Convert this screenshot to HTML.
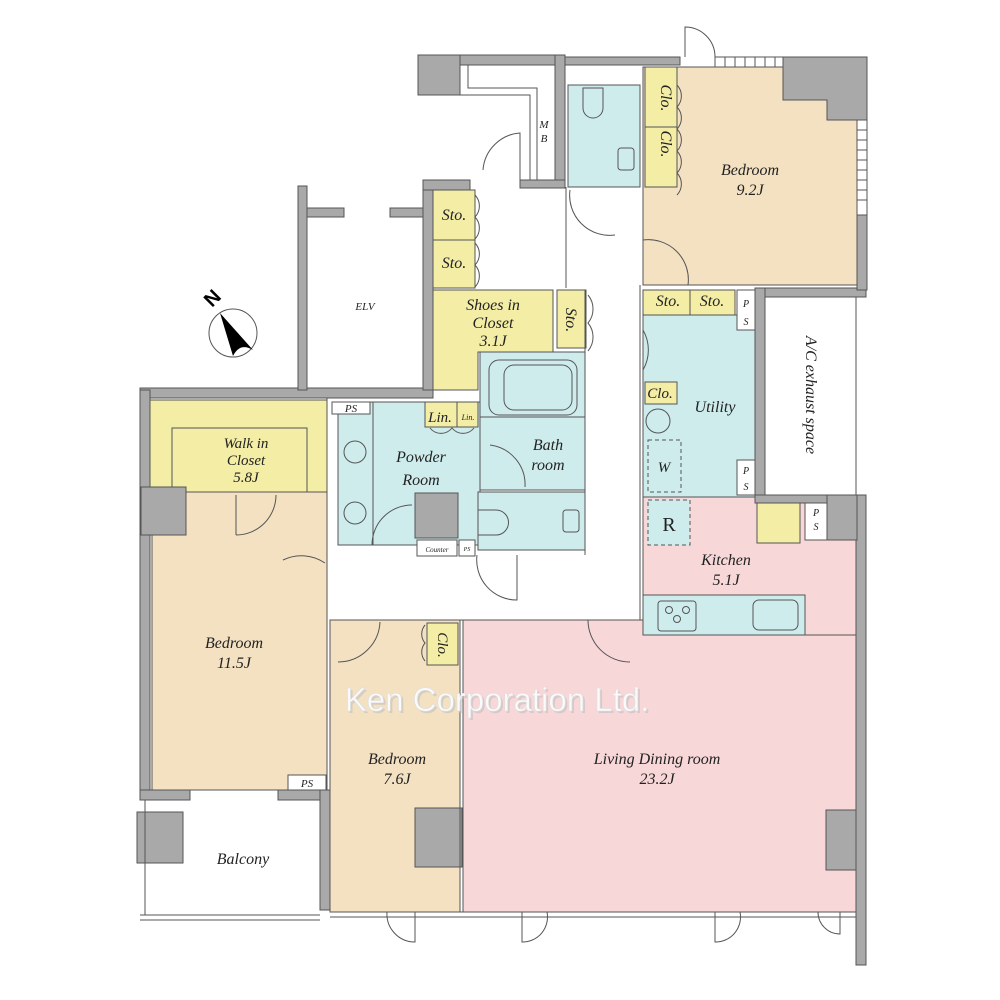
<!DOCTYPE html>
<html><head><meta charset="utf-8"><style>
html,body{margin:0;padding:0;background:#fff;width:1000px;height:1000px;overflow:hidden}
svg{display:block}
text{font-family:"Liberation Serif",serif;font-style:italic;fill:#222}
</style></head><body>
<svg width="1000" height="1000" viewBox="0 0 1000 1000" xmlns="http://www.w3.org/2000/svg">
<g stroke="#555" stroke-width="1">
<rect x="150" y="400" width="177" height="92" fill="#f3eda6"/>
<rect x="172" y="428" width="135" height="64" fill="none"/>
<rect x="152" y="492" width="175" height="298" fill="#f3e1c2"/>
<rect x="338" y="402" width="142" height="143" fill="#cfeced"/>
<rect x="338" y="402" width="35" height="143" fill="#cfeced"/>
<rect x="480" y="352" width="105" height="138" fill="#cfeced"/>
<rect x="478" y="492" width="107" height="58" fill="#cfeced"/>
<rect x="330" y="620" width="130" height="292" fill="#f3e1c2"/>
<rect x="463" y="620" width="393" height="292" fill="#f8d7d8"/>
<rect x="643" y="497" width="213" height="138" fill="#f8d7d8"/>
<rect x="643" y="595" width="162" height="40" fill="#cfeced"/>
<rect x="757" y="503" width="43" height="40" fill="#f3eda6"/>
<rect x="805" y="503" width="22" height="37" fill="#fff"/>
<rect x="648" y="500" width="42" height="45" fill="#cfeced" stroke-dasharray="4,3"/>
<rect x="643" y="315" width="112" height="182" fill="#cfeced"/>
<rect x="648" y="440" width="33" height="52" fill="none" stroke-dasharray="4,3"/>
<rect x="643" y="290" width="47" height="25" fill="#f3eda6"/>
<rect x="690" y="290" width="45" height="25" fill="#f3eda6"/>
<rect x="737" y="290" width="18" height="40" fill="#fff"/>
<rect x="737" y="460" width="18" height="35" fill="#fff"/>
<rect x="645" y="382" width="32" height="22" fill="#f3eda6"/>
<rect x="765" y="297" width="91" height="198" fill="#fff"/>
<path d="M643 67 H783 V100 H827 V120 H857 V285 H643 Z" fill="#f3e1c2"/>
<rect x="645" y="67" width="32" height="60" fill="#f3eda6"/>
<rect x="645" y="127" width="32" height="60" fill="#f3eda6"/>
<rect x="568" y="85" width="72" height="102" fill="#cfeced"/>
<rect x="433" y="190" width="42" height="50" fill="#f3eda6"/>
<rect x="433" y="240" width="42" height="48" fill="#f3eda6"/>
<path d="M433 290 H553 V352 H478 V390 H433 Z" fill="#f3eda6"/>
<rect x="557" y="290" width="29" height="58" fill="#f3eda6"/>
<rect x="427" y="623" width="31" height="42" fill="#f3eda6"/>
<rect x="425" y="402" width="32" height="25" fill="#f3eda6"/>
<rect x="457" y="402" width="21" height="25" fill="#f3eda6"/>
<rect x="332" y="402" width="38" height="12" fill="#fff"/>
<rect x="288" y="775" width="38" height="15" fill="#fff"/>
<rect x="417" y="540" width="40" height="16" fill="#fff"/>
<rect x="459" y="540" width="16" height="16" fill="#fff"/>
<rect x="489" y="360" width="88" height="55" rx="10" fill="none"/>
<rect x="504" y="365" width="68" height="45" rx="10" fill="none"/>
<line x1="480" y1="417" x2="585" y2="417"/>
<circle cx="355" cy="452" r="11" fill="none"/><circle cx="355" cy="513" r="11" fill="none"/>
<circle cx="658" cy="421" r="12" fill="none"/>
<rect x="618" y="148" width="16" height="22" rx="3" fill="none"/>
<rect x="563" y="510" width="16" height="22" rx="3" fill="none"/>
<path d="M583 88 v20 a10 10 0 0 0 20 0 v-20 z" fill="none"/>
<path d="M478 510 h18 a12 12 0 0 1 0 25 h-18 z" fill="none"/>
<rect x="658" y="601" width="38" height="30" rx="3" fill="none"/>
<circle cx="669" cy="610" r="3.5" fill="none"/><circle cx="686" cy="610" r="3.5" fill="none"/><circle cx="677" cy="619" r="3.5" fill="none"/>
<rect x="753" y="600" width="45" height="30" rx="6" fill="none"/>
<g fill="#a9a9a9">
<rect x="140" y="388" width="293" height="10"/>
<rect x="298" y="186" width="9" height="204"/>
<rect x="307" y="208" width="37" height="9"/>
<rect x="390" y="208" width="35" height="9"/>
<rect x="423" y="180" width="10" height="210"/>
<rect x="140" y="390" width="10" height="410"/>
<rect x="141" y="487" width="45" height="48"/>
<rect x="140" y="790" width="50" height="10"/>
<rect x="278" y="790" width="52" height="10"/>
<rect x="320" y="790" width="10" height="120"/>
<rect x="137" y="812" width="46" height="51"/>
<rect x="415" y="808" width="47" height="59"/>
<rect x="415" y="493" width="43" height="45"/>
<rect x="826" y="810" width="30" height="60"/>
<rect x="856" y="495" width="10" height="470"/>
<rect x="827" y="495" width="30" height="45"/>
<rect x="755" y="288" width="111" height="9"/>
<rect x="755" y="288" width="10" height="210"/>
<rect x="755" y="495" width="72" height="8"/>
<rect x="857" y="215" width="10" height="75"/>
<path d="M783 57 H867 V120 H857 V120 H827 V100 H783 Z"/>
<rect x="418" y="55" width="147" height="10"/>
<rect x="418" y="55" width="42" height="40"/>
<rect x="555" y="55" width="10" height="132"/>
<rect x="520" y="180" width="45" height="8"/>
<rect x="565" y="57" width="115" height="8"/>
<rect x="423" y="180" width="47" height="10"/>
</g>
<g fill="none">
<rect x="857" y="120" width="10" height="95"/>
<path d="M857 130h10M857 140h10M857 150h10M857 160h10M857 170h10M857 180h10M857 190h10M857 200h10"/>
<rect x="715" y="57" width="68" height="10"/>
<path d="M725 57v10M735 57v10M745 57v10M755 57v10M765 57v10M775 57v10"/>
<path d="M460 65 V95 H530 V180 M468 65 V88 H537 V180"/>
<line x1="327" y1="398" x2="327" y2="790"/>
<line x1="330" y1="620" x2="640" y2="620"/>
<line x1="585" y1="290" x2="585" y2="555"/>
<line x1="640" y1="285" x2="640" y2="620"/>
<line x1="566" y1="187" x2="566" y2="288"/>
<line x1="330" y1="912" x2="856" y2="912"/>
<line x1="330" y1="917" x2="856" y2="917"/>
<line x1="140" y1="915" x2="320" y2="915"/>
<line x1="140" y1="920" x2="320" y2="920"/>
<line x1="460" y1="620" x2="460" y2="912"/>
<line x1="145" y1="800" x2="145" y2="915"/>
<path d="M236 535 v-40 M236 535 a40 40 0 0 0 40 -40"/>
<path d="M325 563 a42 42 0 0 0 -42 -3"/>
<path d="M517 555 v45 a40 40 0 0 1 -40 -45"/>
<path d="M338 662 a42 42 0 0 0 42 -40"/>
<path d="M630 662 a42 42 0 0 1 -42 -42"/>
<path d="M643 240 a40 40 0 0 1 45 45"/>
<path d="M643 285 v-45"/>
<path d="M570 190 a40 40 0 0 0 45 45 M643 330 a40 40 0 0 1 0 40"/>
<path d="M483 170 a40 40 0 0 1 37 -37 v50"/>
<path d="M685 57 v-30 a30 30 0 0 1 30 30"/>
<path d="M490 445 a40 40 0 0 1 35 42"/>
<path d="M372 545 a40 40 0 0 1 40 -40"/>
<path d="M475 195 a16 16 0 0 1 0 22 a16 16 0 0 1 0 22 M475 243 a16 16 0 0 1 0 22 a16 16 0 0 1 0 22"/>
<path d="M677 85 a16 16 0 0 1 0 22 a16 16 0 0 1 0 22 a16 16 0 0 1 0 22 a16 16 0 0 1 0 22 a16 16 0 0 1 0 22"/>
<path d="M588 295 a22 22 0 0 1 0 28 a22 22 0 0 1 0 28"/>
<path d="M430 428 a14 14 0 0 0 22 0 a14 14 0 0 0 22 0"/>
<path d="M425 625 a14 14 0 0 0 0 18 a14 14 0 0 0 0 18"/>
<path d="M415 912 v30 a28 28 0 0 1 -28 -30 M522 912 v30 a25 25 0 0 0 25 -30 M715 912 v30 a25 25 0 0 0 25 -30 M840 912 v22 a22 22 0 0 1 -22 -22"/>
</g>
<circle cx="233" cy="333" r="24" fill="#fff"/>
</g>
<path d="M220 313 L253 350 Q240 342 233 356 Z" fill="#000"/>
<text x="212" y="308" transform="rotate(-45 212 308)" style="font-style:normal;font-family:'Liberation Sans',sans-serif;font-weight:bold;fill:#000" font-size="20">N</text>
<g font-size="16" text-anchor="middle">
<text x="365" y="310" font-size="11">ELV</text>
<text x="544" y="128" font-size="11">M</text><text x="544" y="142" font-size="11">B</text>
<text x="454" y="220">Sto.</text><text x="454" y="268">Sto.</text>
<text x="493" y="310">Shoes in</text><text x="493" y="328">Closet</text><text x="493" y="346">3.1J</text>
<text x="750" y="175">Bedroom</text><text x="750" y="195">9.2J</text>
<text x="668" y="306">Sto.</text><text x="712" y="306">Sto.</text>
<text x="660" y="398" font-size="15">Clo.</text>
<text x="715" y="412">Utility</text>
<text x="664" y="472" font-size="15">W</text>
<text x="669" y="531" font-size="20" style="font-style:normal">R</text>
<text x="726" y="565">Kitchen</text><text x="726" y="585">5.1J</text>
<text x="246" y="448" font-size="15">Walk in</text><text x="246" y="465" font-size="15">Closet</text><text x="246" y="482" font-size="15">5.8J</text>
<text x="421" y="462">Powder</text><text x="421" y="485">Room</text>
<text x="548" y="450">Bath</text><text x="548" y="470">room</text>
<text x="440" y="422" font-size="15">Lin.</text><text x="468" y="420" font-size="8">Lin.</text>
<text x="234" y="648">Bedroom</text><text x="234" y="668">11.5J</text>
<text x="397" y="764">Bedroom</text><text x="397" y="784">7.6J</text>
<text x="657" y="764">Living Dining room</text><text x="657" y="784">23.2J</text>
<text x="243" y="864">Balcony</text>
<text x="351" y="412" font-size="11">PS</text><text x="307" y="787" font-size="11">PS</text>
<text x="437" y="552" font-size="7">Counter</text><text x="467" y="551" font-size="6">PS</text>
<text x="746" y="307" font-size="10">P</text><text x="746" y="325" font-size="10">S</text>
<text x="746" y="474" font-size="10">P</text><text x="746" y="490" font-size="10">S</text>
<text x="816" y="516" font-size="10">P</text><text x="816" y="530" font-size="10">S</text>
</g>
<text x="661" y="144" font-size="16" transform="rotate(90 661 144)" text-anchor="middle">Clo.</text>
<text x="661" y="98" font-size="16" transform="rotate(90 661 98)" text-anchor="middle">Clo.</text>
<text x="566" y="320" font-size="16" transform="rotate(90 566 320)" text-anchor="middle">Sto.</text>
<text x="438" y="645" font-size="15" transform="rotate(90 438 645)" text-anchor="middle">Clo.</text>
<text x="806" y="395" font-size="16" transform="rotate(90 806 395)" text-anchor="middle">A/C exhaust space</text>
<text x="499" y="713" font-size="33" text-anchor="middle" style="font-style:normal;font-family:'Liberation Sans',sans-serif;fill:#bbb;opacity:0.5">Ken Corporation Ltd.</text>
<text x="497" y="711" font-size="33" text-anchor="middle" style="font-style:normal;font-family:'Liberation Sans',sans-serif;fill:#fafafa;stroke:#ddd;stroke-width:0.6">Ken Corporation Ltd.</text>
</svg>
</body></html>
